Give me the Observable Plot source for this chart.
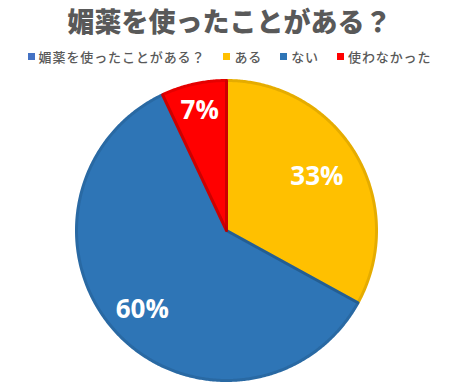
<!DOCTYPE html>
<html>
<head>
<meta charset="utf-8">
<script src="https://cdn.jsdelivr.net/npm/d3@7"></script>
<script src="https://cdn.jsdelivr.net/npm/@observablehq/plot@0.6"></script>
<style>
  html, body { margin: 0; padding: 0; background: #fff; }
  body { width: 457px; height: 386px; overflow: hidden; font-family: "Noto Sans CJK JP", sans-serif; }
  #title { height: 42px; line-height: 42px; text-align: center; font-size: 27px; font-weight: 900; color: #595959; white-space: nowrap; padding-left: 2px; }
  #legend { height: 28px; display: flex; justify-content: center; align-items: center; font-size: 13px; font-weight: 500; letter-spacing: 0.9px; color: #595959; white-space: nowrap; padding-left: 2px; }
  .item { display: flex; align-items: center; margin: 0 9px; }
  .sw { width: 7px; height: 7px; margin-right: 4px; }
  svg { display: block; }
</style>
</head>
<body>
<div id="title"></div>
<div id="legend"></div>
<div id="chart"></div>
<script>
// ---- data ----
const chartTitle = "媚薬を使ったことがある？";
const seriesName = "媚薬を使ったことがある？";
const categories = ["ある", "ない", "使わなかった"];
const percents = [33, 60, 7];
// ---- styles ----
const colors = ["#FFC000", "#2E75B6", "#FF0000"];
const seriesColor = "#4472C4";
const labelRadius = {"ある": 0.70, "ない": 0.77, "使わなかった": 0.82};

document.getElementById("title").textContent = chartTitle;
const legend = document.getElementById("legend");
const legendItems = [[seriesName, seriesColor], ...categories.map((c, i) => [c, colors[i]])];
for (const [name, col] of legendItems) {
  const it = document.createElement("div");
  it.className = "item";
  const sw = document.createElement("div");
  sw.className = "sw";
  sw.style.background = col;
  const t = document.createElement("span");
  t.textContent = name;
  it.appendChild(sw); it.appendChild(t);
  legend.appendChild(it);
}

const rows = categories.map((c, i) => ({category: c, value: percents[i]}));
const arcs = d3.pie().sort(null).value(d => d.value).startAngle(0).endAngle(2 * Math.PI)(rows);

// wedge outlines (geometry derived from the pie layout)
const wedgePts = [];
for (const a of arcs) {
  const c = a.data.category;
  wedgePts.push({category: c, x: 0, y: 0});
  const n = Math.max(2, Math.ceil((a.endAngle - a.startAngle) / (Math.PI / 360)));
  for (let k = 0; k <= n; k++) {
    const t = a.startAngle + (a.endAngle - a.startAngle) * k / n;
    wedgePts.push({category: c, x: Math.sin(t), y: Math.cos(t)});
  }
  wedgePts.push({category: c, x: 0, y: 0});
}

const labels = arcs.map(a => {
  const m = (a.startAngle + a.endAngle) / 2;
  const r = labelRadius[a.data.category];
  return {category: a.data.category, x: r * Math.sin(m), y: r * Math.cos(m), text: a.data.value + "%"};
});

const plot = Plot.plot({
  width: 457,
  height: 316,
  x: {domain: [-1, 1], range: [76, 376], axis: null},
  y: {domain: [-1, 1], range: [310, 10], axis: null},
  color: {domain: categories, range: colors},
  style: {background: "#fff", overflow: "visible"},
  marks: [
    Plot.line(wedgePts, {x: "x", y: "y", z: "category", fill: "category", stroke: "category", strokeWidth: 3, strokeLinejoin: "round", curve: "linear"}),
    Plot.line(wedgePts, {x: "x", y: "y", z: "category", fill: "none", stroke: "#000", strokeOpacity: 0.1, strokeWidth: 3, strokeLinejoin: "round", curve: "linear"}),
    Plot.text(labels, {x: "x", y: "y", text: "text", fill: "#fff", fontSize: 26, fontWeight: "bold", fontFamily: "'Open Sans', sans-serif"})
  ]
});
document.getElementById("chart").appendChild(plot);
</script>
</body>
</html>
